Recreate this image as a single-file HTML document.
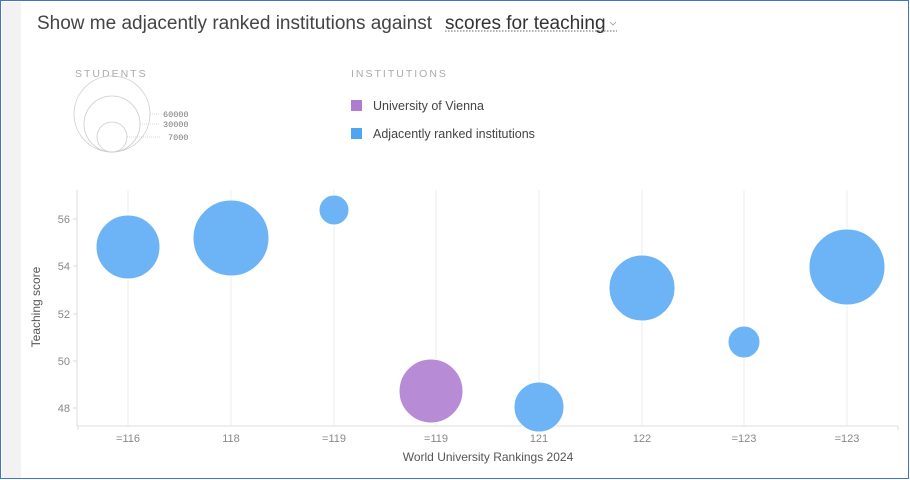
<!DOCTYPE html>
<html><head><meta charset="utf-8"><style>
body{margin:0;width:910px;height:480px;overflow:hidden;background:#fff;font-family:"Liberation Sans",sans-serif}
.frame{position:absolute;left:0;top:0;width:907px;height:477px;border:1.5px solid #4472c4}
.stripe{position:absolute;left:2px;top:2px;width:19px;height:476px;background:#f2f2f2}
</style></head><body>
<div class="frame"></div><div class="stripe"></div>
<svg width="910" height="480" style="position:absolute;left:0;top:0" font-family="Liberation Sans, sans-serif">
<text x="37" y="29" font-size="19" fill="#444">Show me adjacently ranked institutions against</text>
<text x="445" y="29" font-size="19" fill="#333">scores for teaching</text>
<line x1="445" y1="31" x2="617" y2="31" stroke="#666" stroke-dasharray="1.5,1.5"/>
<path d="M610 22l3 3 3-3" stroke="#999" fill="none" stroke-width="0.8"/>
<text x="75" y="77" font-size="10.5" fill="#aaa" letter-spacing="2">STUDENTS</text>
<g fill="none" stroke="#ccc" stroke-width="0.8">
<circle cx="112" cy="114" r="38"/><circle cx="112" cy="124" r="28"/><circle cx="112" cy="137" r="15"/>
<line x1="150" y1="114" x2="160" y2="114" stroke-dasharray="1,1"/>
<line x1="140" y1="124" x2="160" y2="124" stroke-dasharray="1,1"/>
<line x1="127" y1="137" x2="160" y2="137" stroke-dasharray="1,1"/>
</g>
<g font-family="Liberation Mono, monospace" font-size="8.5" fill="#777">
<text x="163" y="117">60000</text><text x="163" y="127">30000</text><text x="168" y="140">7000</text></g>
<text x="351" y="77" font-size="10.5" fill="#aaa" letter-spacing="2">INSTITUTIONS</text>
<rect x="351" y="100" width="11" height="11" fill="#b07cd0"/>
<text x="373" y="110" font-size="12.5" fill="#444">University of Vienna</text>
<rect x="351" y="128" width="11" height="11" fill="#4ea5f2"/>
<text x="373" y="138" font-size="12.5" fill="#444">Adjacently ranked institutions</text>
<g stroke="#eee" stroke-width="1">
<line x1="128" y1="190" x2="128" y2="426"/><line x1="231" y1="190" x2="231" y2="426"/><line x1="334" y1="190" x2="334" y2="426"/><line x1="436" y1="190" x2="436" y2="426"/><line x1="539" y1="190" x2="539" y2="426"/><line x1="642" y1="190" x2="642" y2="426"/><line x1="744" y1="190" x2="744" y2="426"/><line x1="847" y1="190" x2="847" y2="426"/></g>
<g stroke="#ddd"><line x1="77" y1="190" x2="77" y2="426"/><line x1="77" y1="426" x2="898" y2="426"/>
<line x1="73" y1="219" x2="77" y2="219"/><line x1="73" y1="266" x2="77" y2="266"/><line x1="73" y1="314" x2="77" y2="314"/><line x1="73" y1="361" x2="77" y2="361"/><line x1="73" y1="408" x2="77" y2="408"/>
<line x1="78" y1="426" x2="78" y2="430"/><line x1="898" y1="426" x2="898" y2="430"/></g>
<g font-size="11" fill="#888" text-anchor="end">
<text x="70" y="223">56</text><text x="70" y="270">54</text><text x="70" y="318">52</text><text x="70" y="365">50</text><text x="70" y="412">48</text></g>
<g font-size="11" fill="#888" text-anchor="middle">
<text x="128" y="442">=116</text><text x="231" y="442">118</text><text x="334" y="442">=119</text><text x="436" y="442">=119</text><text x="539" y="442">121</text><text x="642" y="442">122</text><text x="744" y="442">=123</text><text x="847" y="442">=123</text></g>
<text x="488" y="461" font-size="12" fill="#555" text-anchor="middle">World University Rankings 2024</text>
<text transform="translate(40,307) rotate(-90)" font-size="12" fill="#555" text-anchor="middle">Teaching score</text>
<g fill="#6cb4f5" stroke="#fff" stroke-width="1">
<circle cx="128" cy="247" r="32"/><circle cx="231" cy="238" r="38"/><circle cx="334" cy="210" r="15"/>
<circle cx="539" cy="407" r="25"/><circle cx="642" cy="288" r="33"/><circle cx="744" cy="342" r="16"/><circle cx="847" cy="267" r="38"/></g>
<circle cx="431" cy="391" r="32" fill="#b88bd6" stroke="#fff"/>
</svg>
</body></html>
